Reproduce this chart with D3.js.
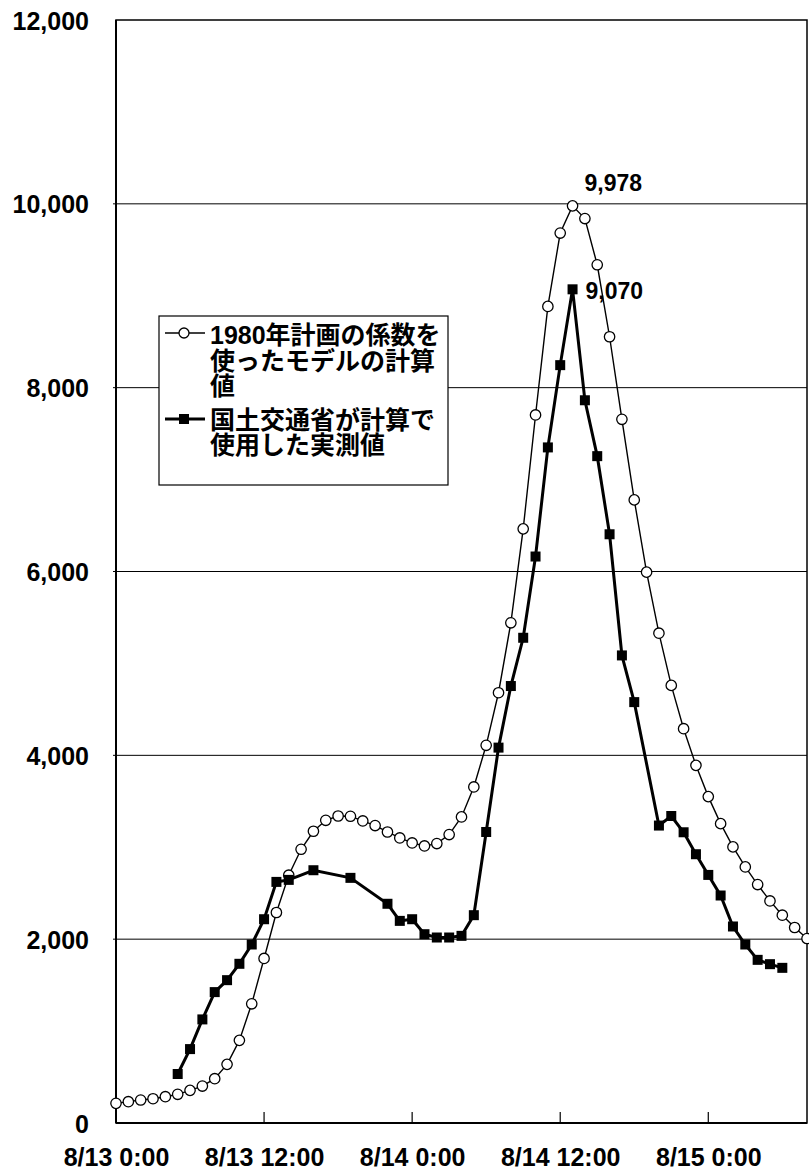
<!DOCTYPE html>
<html><head><meta charset="utf-8">
<script src="https://cdn.jsdelivr.net/npm/d3@7"></script>
<style>
html,body{margin:0;padding:0;background:#fff;}
text{font-family:"Liberation Sans",Arial,"Noto Sans CJK JP",sans-serif;font-weight:bold;fill:#000;}
</style></head>
<body>
<svg id="c" width="809" height="1172"></svg>
<script>
// Hours since 8/13 0:00
const modelHours = d3.range(0, 57);
const modelValues = [214,232,250,264,286,312,355,402,482,638,899,1297,1790,2290,2696,2978,3174,3293,3340,3337,3286,3236,3166,3101,3047,3014,3040,3138,3330,3656,4109,4681,5442,6464,7703,8884,9682,9978,9840,9337,8554,7656,6779,5993,5329,4761,4290,3891,3551,3257,3004,2786,2594,2416,2261,2127,2007];
const obsHours = [5,6,7,8,9,10,11,12,13,14,16,19,22,23,24,25,26,27,28,29,30,31,32,33,34,35,36,37,38,39,40,41,42,44,45,46,47,48,49,50,51,52,53,54];
const obsValues = [533,804,1127,1424,1554,1732,1942,2217,2623,2645,2750,2667,2385,2199,2217,2054,2018,2018,2036,2261,3166,4084,4754,5279,6163,7350,8245,9070,7863,7255,6405,5087,4579,3236,3340,3163,2924,2699,2475,2138,1942,1775,1728,1688];
const xTickHours = [0,12,24,36,48];
const xTickLabels = ["8/13 0:00","8/13 12:00","8/14 0:00","8/14 12:00","8/15 0:00"];
const yTicks = [0,2000,4000,6000,8000,10000,12000];
const legendModel = ["1980年計画の係数を","使ったモデルの計算","値"];
const legendObs = ["国土交通省が計算で","使用した実測値"];
const peakLabels = [{h:37, v:9978, t:"9,978"},{h:37, v:9070, t:"9,070"}];

const svg = d3.select("#c");
const L = 116, R = 807, T = 20, B = 1123;
const x = d3.scaleLinear().domain([0,56]).range([L,R]);
const y = d3.scaleLinear().domain([0,12000]).range([B,T]);

// gridlines
svg.append("g").selectAll("line").data(yTicks.filter(v=>v>0 && v<12000)).join("line")
  .attr("x1", L-3).attr("x2", R).attr("y1", d=>y(d)).attr("y2", d=>y(d))
  .attr("stroke","#000").attr("stroke-width",1);

// frame
svg.append("rect").attr("x",L).attr("y",T).attr("width",R-L).attr("height",B-T)
  .attr("fill","none").attr("stroke","#000").attr("stroke-width",1.5);
svg.append("line").attr("x1",L).attr("x2",L).attr("y1",T).attr("y2",B).attr("stroke","#000").attr("stroke-width",2);
svg.append("line").attr("x1",L).attr("x2",R).attr("y1",B).attr("y2",B).attr("stroke","#000").attr("stroke-width",2);

// x axis ticks (inside) and labels
const xAxis = d3.axisBottom(x).tickValues(xTickHours).tickSize(0).tickFormat((d,i)=>xTickLabels[i]);
const gx = svg.append("g").attr("transform",`translate(0,${B})`).call(xAxis);
gx.select(".domain").remove();
gx.selectAll(".tick text").attr("y", 43).attr("dy",0).style("font-size","25px").attr("font-family",null).attr("fill","#000");
svg.append("g").selectAll("line").data(xTickHours.slice(1)).join("line")
  .attr("x1",d=>x(d)).attr("x2",d=>x(d)).attr("y1",B).attr("y2",B-11)
  .attr("stroke","#000").attr("stroke-width",1.2);

// y axis labels
const yAxis = d3.axisLeft(y).tickValues(yTicks).tickSize(0).tickFormat(d3.format(","));
const gy = svg.append("g").attr("transform",`translate(${L},0)`).call(yAxis);
gy.select(".domain").remove();
gy.selectAll(".tick text").attr("x",-27).attr("dy","0.36em").style("font-size","25px").attr("font-family",null).attr("fill","#000");

// model series
const lineM = d3.line().x((d,i)=>x(modelHours[i])).y(d=>y(d));
svg.append("path").datum(modelValues).attr("d",lineM).attr("fill","none").attr("stroke","#000").attr("stroke-width",1.4);
svg.append("g").selectAll("circle").data(modelValues).join("circle")
  .attr("cx",(d,i)=>x(modelHours[i])).attr("cy",d=>y(d)).attr("r",5.2)
  .attr("fill","#fff").attr("stroke","#000").attr("stroke-width",1.3);

// observed series
const lineO = d3.line().x((d,i)=>x(obsHours[i])).y(d=>y(d));
svg.append("path").datum(obsValues).attr("d",lineO).attr("fill","none").attr("stroke","#000").attr("stroke-width",3);
svg.append("g").selectAll("rect").data(obsValues).join("rect")
  .attr("x",(d,i)=>x(obsHours[i])-5).attr("y",d=>y(d)-5).attr("width",10).attr("height",10)
  .attr("fill","#000");

// peak labels
svg.append("text").attr("x",x(peakLabels[0].h)+12).attr("y",y(peakLabels[0].v)-15).style("font-size","23px").text(peakLabels[0].t);
svg.append("text").attr("x",x(peakLabels[1].h)+13).attr("y",y(peakLabels[1].v)+10).style("font-size","23px").text(peakLabels[1].t);

// legend
const lg = svg.append("g");
lg.append("rect").attr("x",159).attr("y",316).attr("width",289).attr("height",169)
  .attr("fill","#fff").attr("stroke","#000").attr("stroke-width",1.2);
lg.append("line").attr("x1",165).attr("x2",205).attr("y1",333).attr("y2",333).attr("stroke","#000").attr("stroke-width",1.4);
lg.append("circle").attr("cx",184).attr("cy",333).attr("r",5).attr("fill","#fff").attr("stroke","#000").attr("stroke-width",1.3);
lg.append("line").attr("x1",165).attr("x2",205).attr("y1",419).attr("y2",419).attr("stroke","#000").attr("stroke-width",3);
lg.append("rect").attr("x",179).attr("y",414).attr("width",10).attr("height",10).attr("fill","#000");
const lm = [344,370,395];
legendModel.forEach((t,i)=>lg.append("text").attr("x",210).attr("y",lm[i]).style("font-size","25px").text(t));
const lo = [429,454];
legendObs.forEach((t,i)=>lg.append("text").attr("x",210).attr("y",lo[i]).style("font-size","25px").text(t));
</script>
</body></html>
